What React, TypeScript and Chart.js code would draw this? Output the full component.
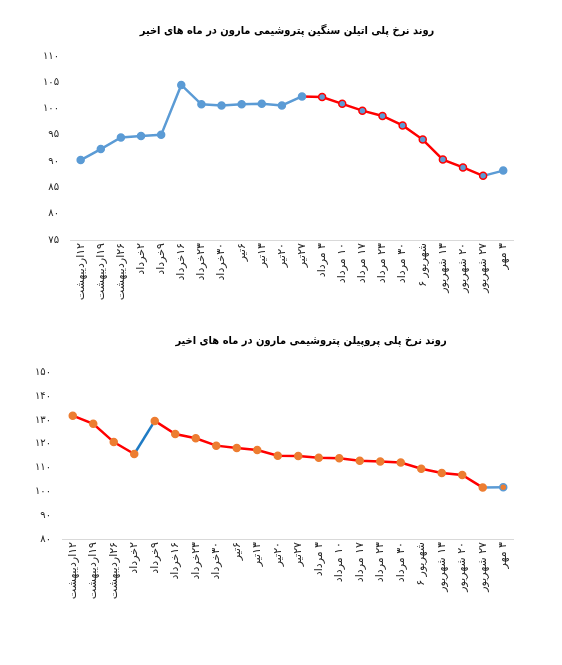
import React, { useEffect, useRef } from "react";
import { Chart, registerables } from "chart.js";
Chart.register(...registerables);

const categories = [
  "۱۲اردیبهشت", "۱۹اردیبهشت", "۲۶اردیبهشت", "۲خرداد", "۹خرداد", "۱۶خرداد",
  "۲۳خرداد", "۳۰خرداد", "۶تیر", "۱۳تیر", "۲۰تیر", "۲۷تیر", "۳ مرداد",
  "۱۰ مرداد", "۱۷ مرداد", "۲۳ مرداد", "۳۰ مرداد", "شهریور ۶", "۱۳ شهریور",
  "۲۰ شهریور", "۲۷ شهریور", "۳ مهر",
];

const hdpeValues = [
  90.2, 92.3, 94.5, 94.8, 95.0, 104.5, 100.8, 100.6, 100.8, 100.9, 100.6,
  102.3, 102.2, 100.9, 99.6, 98.6, 96.8, 94.1, 90.3, 88.8, 87.2, 88.2,
];

const ppValues = [
  131.8, 128.4, 120.7, 115.7, 129.6, 124.1, 122.3, 119.2, 118.2, 117.4, 115.0,
  114.9, 114.1, 113.9, 112.9, 112.5, 112.1, 109.5, 107.7, 106.9, 101.6, 101.7,
];

const hdpeTitle = "روند نرخ پلی اتیلن سنگین پتروشیمی مارون در ماه های اخیر";
const ppTitle = "روند نرخ پلی پروپیلن پتروشیمی مارون در ماه های اخیر";

const hdpeAxis = { min: 75, max: 110, step: 5 };
const ppAxis = { min: 80, max: 150, step: 10 };

const FONT = "'DejaVu Sans', sans-serif";
const TITLE_FONT = "'DejaVu Sans Condensed', 'DejaVu Sans', sans-serif";
const BLUE = "#5B9BD5";
const DARK_BLUE = "#1F7BC4";
const RED = "#FF0000";
const ORANGE = "#ED7D31";

const toFa = (v: number | string) =>
  String(v).replace(/[0-9]/g, (d) => "۰۱۲۳۴۵۶۷۸۹"[Number(d)]);

function baseOptions(axis: any, pad: any, yWidth: number, yPad: number) {
  return {
    responsive: false,
    animation: false as const,
    layout: { padding: pad },
    plugins: { legend: { display: false }, tooltip: { enabled: false }, title: { display: false } },
    scales: {
      x: {
        type: "category" as const,
        offset: true,
        grid: { display: false, drawTicks: false },
        border: { display: true, color: "#D9D9D9", width: 1 },
        ticks: {
          autoSkip: false,
          maxRotation: 90,
          minRotation: 90,
          padding: 3,
          color: "#262626",
          font: { family: FONT, size: 11 },
        },
        afterFit: (s: any) => {
          s.height = 70;
        },
      },
      y: {
        min: axis.min,
        max: axis.max,
        grid: { display: false, drawTicks: false },
        border: { display: false },
        ticks: {
          stepSize: axis.step,
          padding: yPad,
          color: "#262626",
          font: { family: FONT, size: 10 },
          callback: (v: any) => toFa(v),
        },
        afterFit: (s: any) => {
          s.width = yWidth;
        },
      },
    },
  };
}

export default function App() {
  const topRef = useRef<HTMLCanvasElement>(null);
  const botRef = useRef<HTMLCanvasElement>(null);

  useEffect(() => {
    const hdpeRed = (i: number) => i >= 12 && i <= 20;
    const top = new Chart(topRef.current!, {
      type: "line",
      data: {
        labels: categories,
        datasets: [
          {
            data: hdpeValues,
            borderColor: BLUE,
            borderWidth: 2.5,
            backgroundColor: BLUE,
            pointRadius: 3.5,
            pointBackgroundColor: BLUE,
            pointBorderColor: hdpeValues.map((_, i) => (hdpeRed(i) ? RED : BLUE)),
            pointBorderWidth: 1.5,
            tension: 0,
            segment: {
              borderColor: (c: any) => (c.p0DataIndex >= 11 && c.p0DataIndex <= 19 ? RED : BLUE),
            },
          },
        ],
      },
      options: baseOptions(hdpeAxis, { top: 56, right: 48.7, left: 0, bottom: 10 }, 70.6, 11.6) as any,
    });

    const bot = new Chart(botRef.current!, {
      type: "line",
      data: {
        labels: categories,
        datasets: [
          {
            data: ppValues,
            borderColor: RED,
            borderWidth: 2.5,
            backgroundColor: ORANGE,
            pointRadius: 3.5,
            pointBackgroundColor: ORANGE,
            pointBorderColor: ppValues.map((_, i) => (i === ppValues.length - 1 ? BLUE : ORANGE)),
            pointBorderWidth: 1.5,
            tension: 0,
            segment: {
              borderColor: (c: any) =>
                c.p0DataIndex === 3 ? DARK_BLUE : c.p0DataIndex === ppValues.length - 2 ? BLUE : RED,
            },
          },
        ],
      },
      options: baseOptions(ppAxis, { top: 52.3, right: 48.5, left: 0, bottom: 56 }, 62.5, 11.5) as any,
    });

    return () => {
      top.destroy();
      bot.destroy();
    };
  }, []);

  const titleStyle = (cx: number, cy: number): React.CSSProperties => ({
    position: "absolute",
    left: cx,
    top: cy,
    transform: "translate(-50%, -50%)",
    whiteSpace: "nowrap",
    direction: "rtl",
    fontFamily: TITLE_FONT,
    fontWeight: "bold",
    fontSize: 11,
    color: "#000",
  });

  const canvasStyle = (t: number): React.CSSProperties => ({
    position: "absolute",
    left: 0,
    top: t,
    direction: "rtl",
  });

  return (
    <div
      style={{
        position: "absolute",
        left: 0,
        top: 0,
        width: 562,
        height: 665,
        background: "#fff",
        overflow: "hidden",
      }}
    >
      <canvas ref={topRef} width={562} height={320} style={canvasStyle(0)} />
      <canvas ref={botRef} width={562} height={345} style={canvasStyle(320)} />
      <div style={titleStyle(287, 30)}>{hdpeTitle}</div>
      <div style={titleStyle(311, 340)}>{ppTitle}</div>
    </div>
  );
}
